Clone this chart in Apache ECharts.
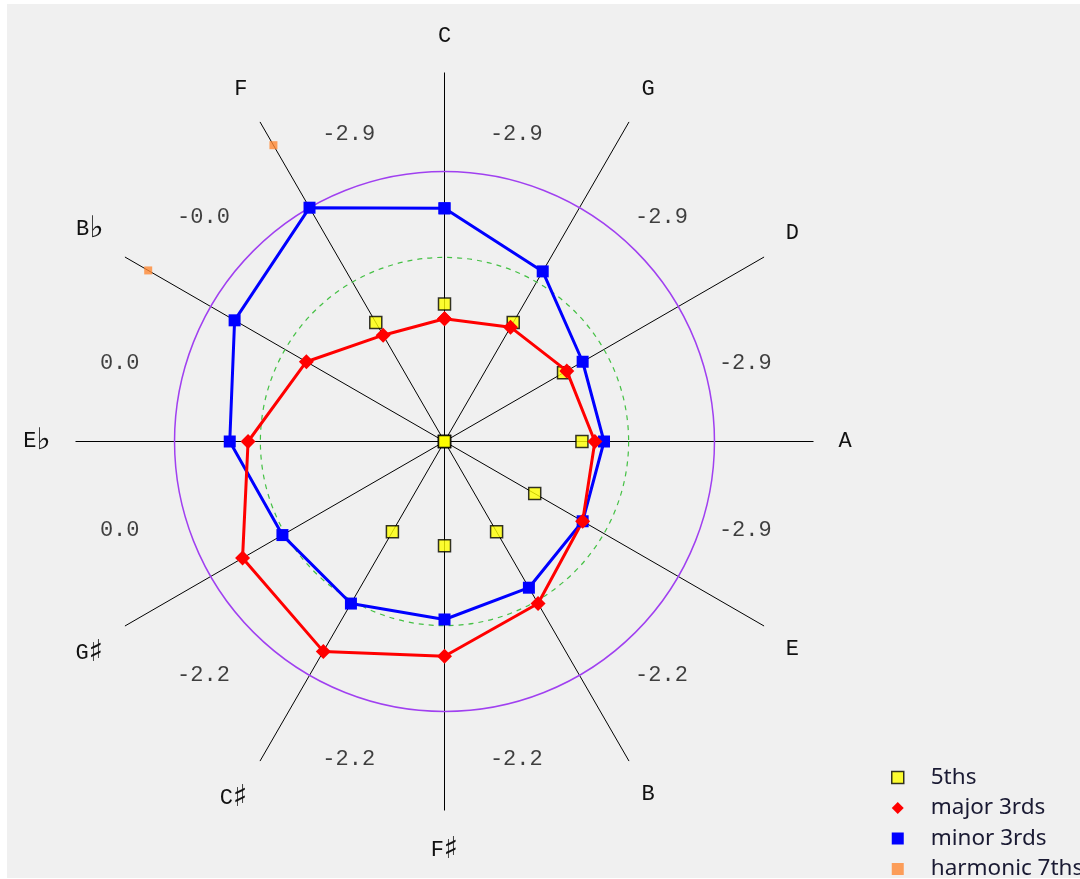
<!DOCTYPE html>
<html>
<head>
<meta charset="utf-8">
<script src="https://cdn.jsdelivr.net/npm/echarts@6/dist/echarts.min.js"></script>
<style>
    html, body {
        width: 100%;
        height: 100%;
        margin: 0;
        background: #ffffff;
    }
    #main {
        position: absolute;
        left: 7px;
        top: 4px;
        width: 1073px;
        height: 874px;
        background: #f0f0f0;
    }
</style>
</head>
<body>
<div id="main"></div>
<script>
    // circle of fifths, clockwise from the top
    var notes = ['C', 'G', 'D', 'A', 'E', 'B', 'F♯', 'C♯', 'G♯', 'E♭', 'B♭', 'F'];
    // tempering of each fifth (label drawn between spoke i and i+1)
    var fifthLabels = ['-2.9', '-2.9', '-2.9', '-2.9', '-2.2', '-2.2', '-2.2', '-2.2', '0.0', '0.0', '-0.0', '-2.9'];

    // radial values, one per spoke
    var fifths    = [10.95, 10.95, 10.95, 10.95, 8.3, 8.3, 8.3, 8.3, 0, 0, 0, 10.95];
    var major3rds = [9.78, 10.52, 11.25, 11.98, 12.71, 14.91, 17.11, 19.31, 18.58, 15.65, 12.71, 9.78];
    var minor3rds = [18.58, 15.65, 12.71, 12.71, 12.71, 13.45, 14.18, 14.91, 14.91, 17.11, 19.31, 21.51];
    var harm7ths  = [null, null, null, null, null, null, null, null, null, null, 27.26, 27.26];

    // reference circles: pythagorean third, average of equal tempered thirds
    var pythCircle = 21.51;
    var avgCircle = 14.67;

    var R_MAX = 29.4;      // value at the end of a spoke
    var R_PX = 369;        // spoke length on screen
    var CENTER = [437.5, 437.5];
    var LABEL_R = 25.8;    // where the fifth labels sit

    var chart = echarts.init(document.getElementById('main'));

    function ring(vals, closed) {
        var out = [];
        for (var i = 0; i < vals.length; i++) {
            out.push([vals[i], i * 30]);
        }
        if (closed) out.push([vals[0], 360]);
        return out;
    }

    var monoFont = "'Courier New', 'Liberation Mono', monospace";

    function circlePolar(r) {
        return { center: CENTER, radius: r / R_MAX * R_PX };
    }
    function hiddenAngle(idx, style) {
        return {
            polarIndex: idx, type: 'value', min: 0, max: 360, startAngle: 90,
            axisLine: { show: true, lineStyle: style },
            axisTick: { show: false }, axisLabel: { show: false }, splitLine: { show: false }
        };
    }
    function hiddenRadius(idx) {
        return {
            polarIndex: idx, min: 0, max: R_MAX,
            axisLine: { show: false }, axisTick: { show: false },
            axisLabel: { show: false }, splitLine: { show: false }
        };
    }

    chart.setOption({
        animation: false,
        polar: [
            { center: CENTER, radius: R_PX },
            circlePolar(pythCircle),
            circlePolar(avgCircle)
        ],
        angleAxis: [
            {
                polarIndex: 0,
                type: 'value',
                min: 0,
                max: 360,
                interval: 30,
                startAngle: 90,
                clockwise: true,
                axisLine: { show: false },
                axisTick: { show: false },
                splitLine: { show: true, lineStyle: { color: '#000', width: 1 } },
                axisLabel: {
                    margin: 25,
                    color: '#111',
                    fontFamily: monoFont,
                    fontSize: 22,
                    formatter: function (v) {
                        if (v >= 360) return '';
                        var n = notes[v / 30];
                        if (n.length > 1) return n.charAt(0) + '{acc|' + n.charAt(1) + '}';
                        return n;
                    },
                    rich: {
                        acc: { fontFamily: "'DejaVu Sans', sans-serif", fontSize: 30, color: '#111' }
                    }
                }
            },
            hiddenAngle(1, { color: '#a040f0', width: 1.5 }),
            hiddenAngle(2, { color: '#44c044', width: 1.2, type: [5, 5] })
        ],
        radiusAxis: [hiddenRadius(0), hiddenRadius(1), hiddenRadius(2)],
        legend: {
            orient: 'vertical',
            left: 884,
            top: 762,
            height: 140,
            padding: 0,
            itemWidth: 12,
            itemHeight: 12,
            itemGap: 7.5,
            textStyle: { fontFamily: "'Noto Sans', sans-serif", fontSize: 22.5, color: '#1a1a33', padding: [0, 0, 0, 22] },
            data: [
                { name: '5ths', icon: 'rect', itemStyle: { color: '#ffff00', borderColor: '#000', borderWidth: 1.5 } },
                { name: 'major 3rds', icon: 'diamond', itemStyle: { color: '#ff0000', borderWidth: 0 } },
                { name: 'minor 3rds', icon: 'rect', itemStyle: { color: '#0000ff', borderWidth: 0 } },
                { name: 'harmonic 7ths', icon: 'rect', itemStyle: { color: '#ff8833', borderWidth: 0 } }
            ]
        },
        series: [
            {
                name: 'fifth labels',
                type: 'scatter',
                coordinateSystem: 'polar',
                polarIndex: 0,
                clip: false,
                symbolSize: 0,
                itemStyle: { color: 'transparent' },
                silent: true,
                data: fifthLabels.map(function (t, i) { return [LABEL_R, 15 + i * 30]; }),
                label: {
                    show: true,
                    position: 'inside',
                    offset: [-12, 5],
                    color: '#111',
                    fontFamily: monoFont,
                    fontSize: 22,
                    formatter: function (p) { return fifthLabels[p.dataIndex]; }
                }
            },
            {
                name: 'harmonic 7ths',
                type: 'scatter',
                coordinateSystem: 'polar',
                polarIndex: 0,
                symbol: 'rect',
                symbolSize: 8,
                itemStyle: { color: '#ff8833' },
                data: ring(harm7ths, false).filter(function (d) { return d[0] !== null; })
            },
            {
                name: 'minor 3rds',
                type: 'line',
                coordinateSystem: 'polar',
                polarIndex: 0,
                symbol: 'rect',
                symbolSize: 12,
                itemStyle: { color: '#0000ff' },
                lineStyle: { color: '#0000ff', width: 3 },
                data: ring(minor3rds, true)
            },
            {
                name: 'major 3rds',
                type: 'line',
                coordinateSystem: 'polar',
                polarIndex: 0,
                symbol: 'diamond',
                symbolSize: 15,
                itemStyle: { color: '#ff0000' },
                lineStyle: { color: '#ff0000', width: 3 },
                data: ring(major3rds, true)
            },
            {
                name: '5ths',
                type: 'scatter',
                coordinateSystem: 'polar',
                polarIndex: 0,
                symbol: 'rect',
                symbolSize: 12,
                itemStyle: { color: '#ffff00', borderColor: '#000', borderWidth: 1.5 },
                data: ring(fifths, false)
            }
        ]
    });
</script>
</body>
</html>
